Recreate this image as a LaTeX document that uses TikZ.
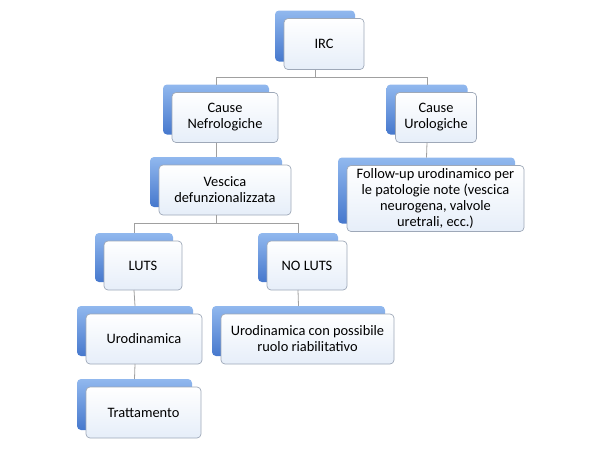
\documentclass[tikz,border=0pt]{standalone}
\usepackage{fontspec}
\setmainfont{Carlito}
\definecolor{bluetop}{RGB}{145,184,238}
\definecolor{bluebot}{RGB}{70,120,205}
\definecolor{wbot}{RGB}{230,238,249}
\definecolor{wborder}{RGB}{158,168,184}
\definecolor{lineg}{RGB}{160,160,160}
\tikzset{
  bluebox/.style={rounded corners=4pt, top color=bluetop, bottom color=bluebot, draw=none, inner sep=0pt, outer sep=0pt},
  whitebox/.style={rounded corners=4pt, top color=white, bottom color=wbot, draw=wborder, line width=0.7pt, inner sep=0pt, outer sep=0pt, align=center, font=\fontsize{14.4}{16}\selectfont},
  conn/.style={draw=lineg, line width=0.8pt}
}
\newcommand{\mkbox}[6]{%
  \node[bluebox, minimum width=#4pt, minimum height=#5pt] (#1b) at (#2,#3) {};
  \node[whitebox, minimum width=#4pt, minimum height=#5pt] (#1) at ([shift={(9,8)}]#1b.center) {#6};
}
\begin{document}
\begin{tikzpicture}[x=1pt,y=-1pt]
\useasboundingbox (0,0) rectangle (600,450);
\mkbox{irc}{315}{36}{80}{51}{IRC}
\mkbox{nef}{216}{109.5}{106}{50}{Cause\\Nefrologiche}
\mkbox{uro}{427}{109.5}{81}{50}{Cause\\Urologiche}
\mkbox{fol}{426.5}{190.5}{177}{66}{Follow-up urodinamico per\\le patologie note (vescica\\neurogena, valvole\\uretrali, ecc.)}
\mkbox{ves}{216}{182}{132}{50}{Vescica\\defunzionalizzata}
\mkbox{luts}{134}{257.5}{78}{49}{LUTS}
\mkbox{noluts}{298}{257.5}{80}{49}{NO LUTS}
\mkbox{urod}{135}{331}{116}{50}{Urodinamica}
\mkbox{urocon}{298.5}{331}{173}{50}{Urodinamica con possibile\\ruolo riabilitativo}
\mkbox{trat}{134.5}{404.5}{115}{51}{Trattamento}
\coordinate (bus1) at (0,77);
\coordinate (bus2) at (0,223);
\draw[conn] (ircb.center |- irc.south) -- (ircb.center |- bus1) -| (nefb.north);
\draw[conn] (ircb.center |- bus1) -| (urob.north);
\draw[conn] (nefb.center |- nef.south) -- (vesb.north);
\draw[conn] (urob.center |- uro.south) -- (folb.north);
\draw[conn] (vesb.center |- ves.south) -- (vesb.center |- bus2) -| (lutsb.north);
\draw[conn] (vesb.center |- bus2) -| (nolutsb.north);
\draw[conn] (lutsb.center |- luts.south) -- (urodb.north);
\draw[conn] (nolutsb.center |- noluts.south) -- (uroconb.north);
\draw[conn] (urodb.center |- urod.south) -- (tratb.north);
\end{tikzpicture}
\end{document}
